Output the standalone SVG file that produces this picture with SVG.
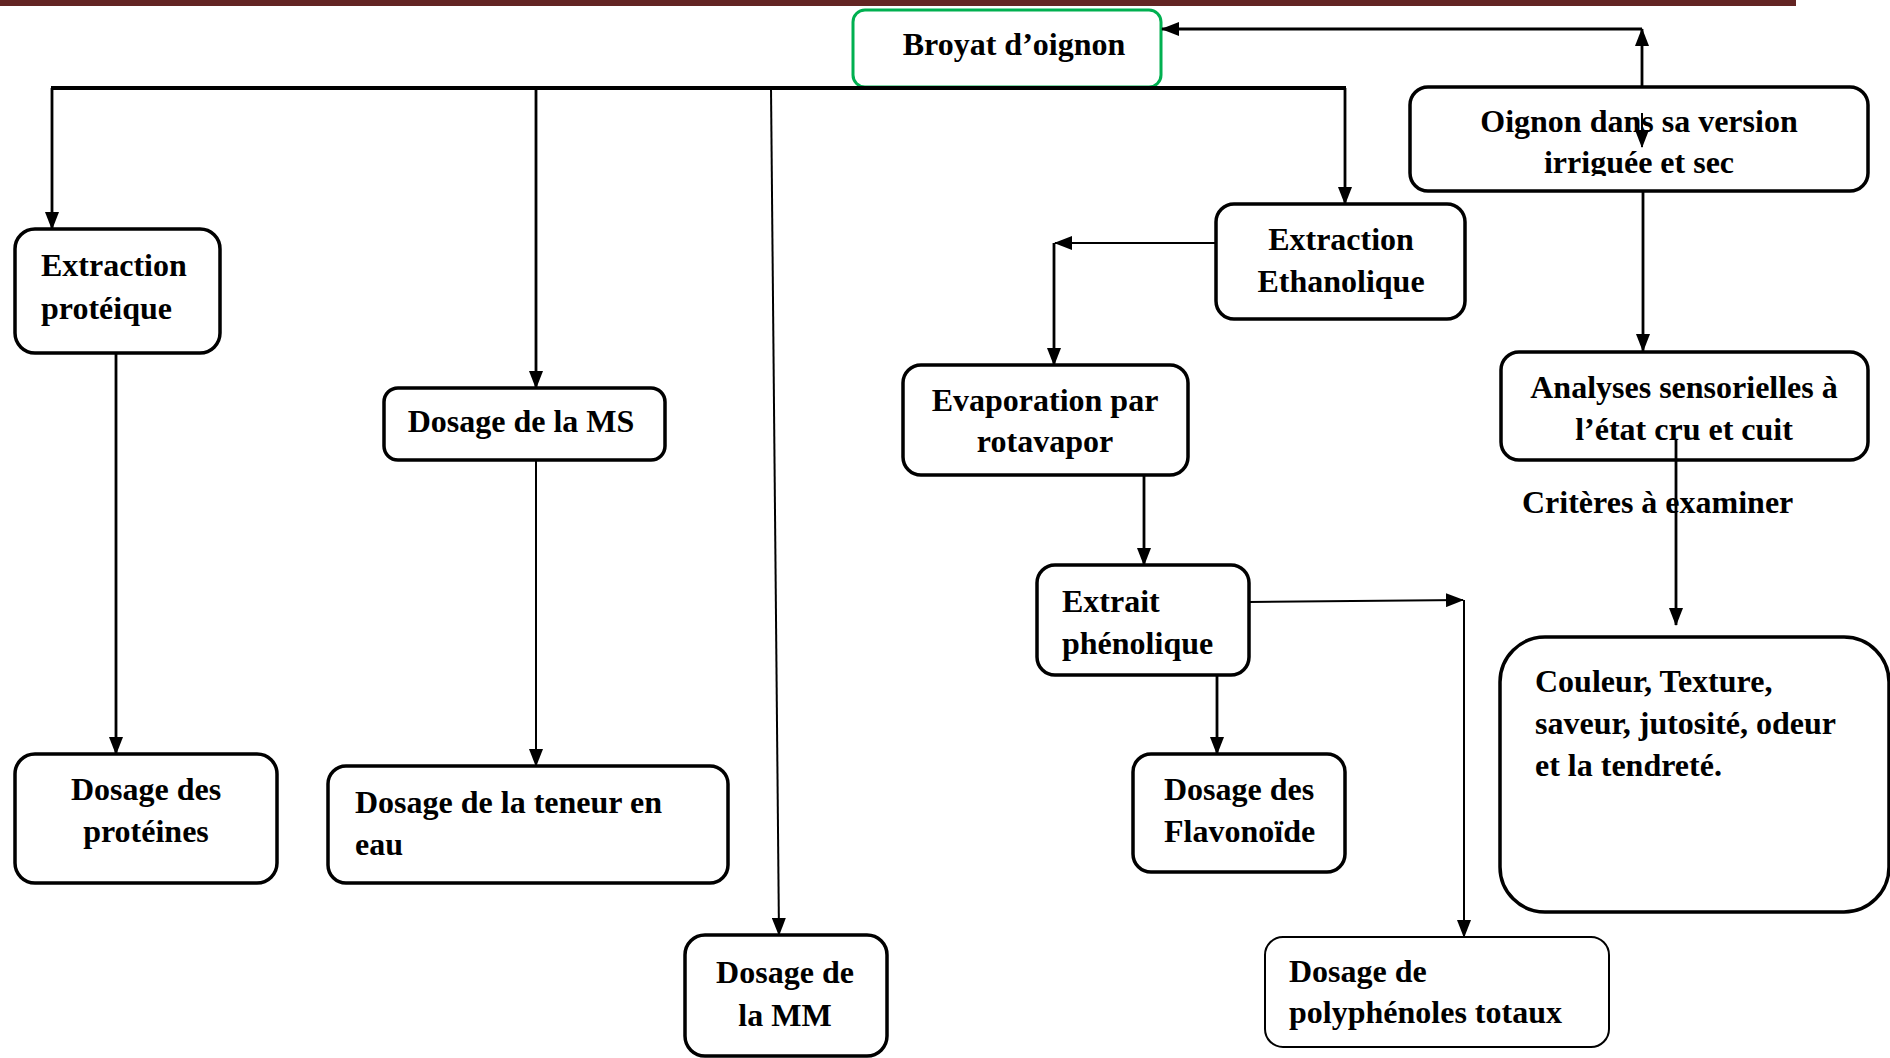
<svg xmlns="http://www.w3.org/2000/svg" width="1890" height="1058" viewBox="0 0 1890 1058">
<style>
  .box { fill: #ffffff; stroke: #000000; stroke-width: 3.5; }
  .thin { stroke-width: 2; }
  .green { fill: #ffffff; stroke: #00b050; stroke-width: 3; }
  text { font-family: "Liberation Serif", "Times New Roman", serif; font-weight: bold; font-size: 32px; fill: #000000; }
  .c { text-anchor: middle; }
  .ln { fill: none; stroke: #000000; stroke-width: 2.8; }
  .ln2 { fill: none; stroke: #000000; stroke-width: 2; }
  .bus { fill: none; stroke: #000000; stroke-width: 4; }
</style>
<defs>
  <marker id="ah" markerUnits="userSpaceOnUse" markerWidth="18" markerHeight="14" refX="17" refY="7" orient="auto">
    <path d="M0,0 L18,7 L0,14 z" fill="#000000"/>
  </marker>
  <clipPath id="clipOig"><rect x="1410" y="87" width="460" height="89"/></clipPath>
</defs>
<rect id="topbar" x="0" y="0" width="1796" height="6" fill="#632523"/>

<g id="node-broyat">
  <rect class="green" x="853" y="10" width="308" height="77" rx="12"/>
  <text class="c" x="1014" y="55">Broyat d’oignon</text>
</g>
<g id="node-oignon">
  <rect class="box" x="1410" y="87" width="458" height="104" rx="18"/>
  <g clip-path="url(#clipOig)">
    <text class="c" x="1639" y="132">Oignon dans sa version</text>
    <text class="c" x="1639" y="173">irriguée et sec</text>
  </g>
</g>
<g id="node-analyses">
  <rect class="box" x="1501" y="352" width="367" height="108" rx="18"/>
  <text class="c" x="1684" y="398">Analyses sensorielles à</text>
  <text class="c" x="1684" y="440">l’état cru et cuit</text>
</g>
<g id="label-criteres">
  <text x="1522" y="513">Critères à examiner</text>
</g>
<g id="node-couleur">
  <rect class="box" x="1500" y="637" width="389" height="275" rx="45"/>
  <text x="1535" y="692">Couleur, Texture,</text>
  <text x="1535" y="734">saveur, jutosité, odeur</text>
  <text x="1535" y="776">et la tendreté.</text>
</g>
<g id="node-ethanolique">
  <rect class="box" x="1216" y="204" width="249" height="115" rx="18"/>
  <text class="c" x="1341" y="250">Extraction</text>
  <text class="c" x="1341" y="292">Ethanolique</text>
</g>
<g id="node-evaporation">
  <rect class="box" x="903" y="365" width="285" height="110" rx="18"/>
  <text class="c" x="1045" y="411">Evaporation par</text>
  <text class="c" x="1045" y="452">rotavapor</text>
</g>
<g id="node-extrait">
  <rect class="box" x="1037" y="565" width="212" height="110" rx="18"/>
  <text x="1062" y="612">Extrait</text>
  <text x="1062" y="654">phénolique</text>
</g>
<g id="node-flavonoide">
  <rect class="box" x="1133" y="754" width="212" height="118" rx="18"/>
  <text x="1164" y="800">Dosage des</text>
  <text x="1164" y="842">Flavonoïde</text>
</g>
<g id="node-polyphenoles">
  <rect class="box thin" x="1265" y="937" width="344" height="110" rx="18"/>
  <text x="1289" y="982">Dosage de</text>
  <text x="1289" y="1023">polyphénoles totaux</text>
</g>
<g id="node-proteique">
  <rect class="box" x="15" y="229" width="205" height="124" rx="20"/>
  <text x="41" y="276">Extraction</text>
  <text x="41" y="319">protéique</text>
</g>
<g id="node-proteines">
  <rect class="box" x="15" y="754" width="262" height="129" rx="20"/>
  <text class="c" x="146" y="800">Dosage des</text>
  <text class="c" x="146" y="842">protéines</text>
</g>
<g id="node-ms">
  <rect class="box" x="384" y="388" width="281" height="72" rx="14"/>
  <text class="c" x="521" y="432">Dosage de la MS</text>
</g>
<g id="node-teneur">
  <rect class="box" x="328" y="766" width="400" height="117" rx="18"/>
  <text x="355" y="813">Dosage de la teneur en</text>
  <text x="355" y="855">eau</text>
</g>
<g id="node-mm">
  <rect class="box" x="685" y="935" width="202" height="121" rx="20"/>
  <text class="c" x="785" y="983">Dosage de</text>
  <text class="c" x="785" y="1026">la MM</text>
</g>

<g id="connectors">
  <line class="ln" x1="1642" y1="87" x2="1642" y2="29" marker-end="url(#ah)"/>
  <line class="ln" x1="1642" y1="29" x2="1162" y2="29" marker-end="url(#ah)"/>
  <line class="ln2" x1="1642" y1="113" x2="1642" y2="147" marker-end="url(#ah)"/>
  <line class="ln" x1="1643" y1="191" x2="1643" y2="351" marker-end="url(#ah)"/>
  <line class="ln" x1="1676" y1="440" x2="1676" y2="625" marker-end="url(#ah)"/>
  <line class="bus" x1="51" y1="88" x2="1346" y2="88"/>
  <line class="ln" x1="52" y1="88" x2="52" y2="229" marker-end="url(#ah)"/>
  <line class="ln" x1="536" y1="88" x2="536" y2="388" marker-end="url(#ah)"/>
  <line class="ln2" x1="771" y1="88" x2="779" y2="935" marker-end="url(#ah)"/>
  <line class="ln" x1="1345" y1="88" x2="1345" y2="204" marker-end="url(#ah)"/>
  <line class="ln" x1="116" y1="353" x2="116" y2="754" marker-end="url(#ah)"/>
  <line class="ln2" x1="536" y1="460" x2="536" y2="766" marker-end="url(#ah)"/>
  <line class="ln2" x1="1216" y1="243" x2="1055" y2="243" marker-end="url(#ah)"/>
  <line class="ln" x1="1054" y1="243" x2="1054" y2="365" marker-end="url(#ah)"/>
  <line class="ln" x1="1144" y1="475" x2="1144" y2="565" marker-end="url(#ah)"/>
  <line class="ln2" x1="1249" y1="602" x2="1463" y2="600" marker-end="url(#ah)"/>
  <line class="ln2" x1="1464" y1="600" x2="1464" y2="937" marker-end="url(#ah)"/>
  <line class="ln" x1="1217" y1="675" x2="1217" y2="754" marker-end="url(#ah)"/>
</g>
</svg>
